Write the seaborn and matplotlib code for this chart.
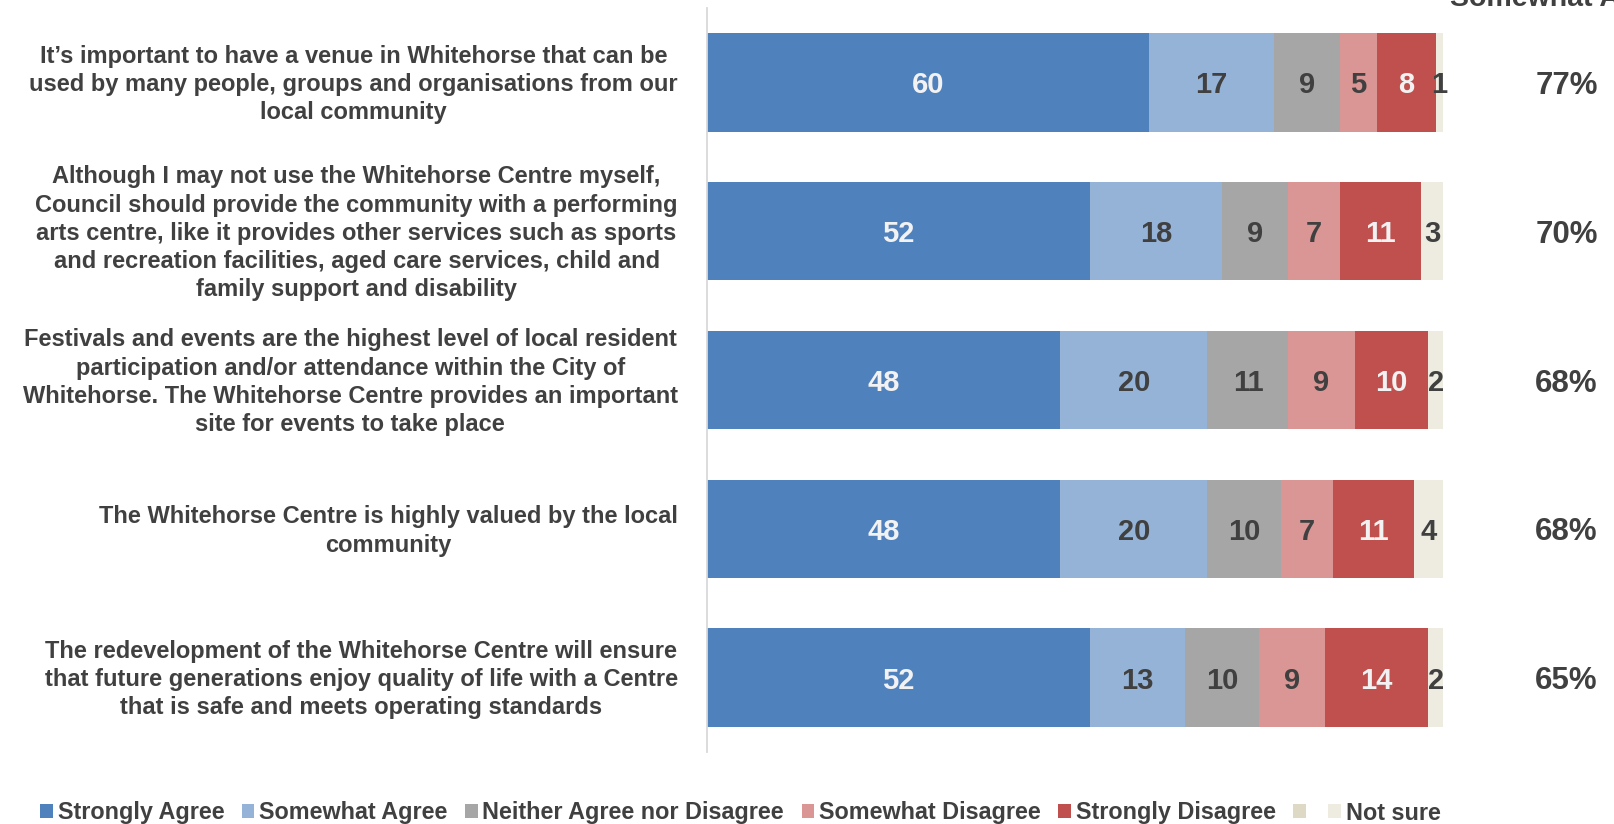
import matplotlib
matplotlib.use("Agg")
import matplotlib.pyplot as plt
from matplotlib.patches import Patch
from matplotlib.transforms import ScaledTranslation
import numpy as np
import pandas as pd
import seaborn as sns

# ---------------- data ----------------
statements = [
    "It\u2019s important to have a venue in Whitehorse that can be\nused by many people, groups and organisations from our\nlocal community",
    "Although I may not use the Whitehorse Centre myself,\nCouncil should provide the community with a performing\narts centre, like it provides other services such as sports\nand recreation facilities, aged care services, child and\nfamily support and disability",
    "Festivals and events are the highest level of local resident\nparticipation and/or attendance within the City of\nWhitehorse. The Whitehorse Centre provides an important\nsite for events to take place",
    "The Whitehorse Centre is highly valued by the local\ncommunity",
    "The redevelopment of the Whitehorse Centre will ensure\nthat future generations enjoy quality of life with a Centre\nthat is safe and meets operating standards",
]
categories = ["Strongly Agree", "Somewhat Agree", "Neither Agree nor Disagree",
              "Somewhat Disagree", "Strongly Disagree", "Not sure"]
strongly_agree = [60, 52, 48, 48, 52]
somewhat_agree = [17, 18, 20, 20, 13]
neither = [9, 9, 11, 10, 10]
somewhat_disagree = [5, 7, 9, 7, 9]
strongly_disagree = [8, 11, 10, 11, 14]
not_sure = [1, 3, 2, 4, 2]
header = "Somewhat Agree + Strongly Agree"

series = [strongly_agree, somewhat_agree, neither, somewhat_disagree, strongly_disagree, not_sure]
colors = ["#4F81BD", "#95B3D7", "#A6A6A6", "#DA9694", "#C0504D", "#EEECE1"]
label_colors = ["#F2F2F2", "#404040", "#404040", "#404040", "#F2F2F2", "#404040"]
text_color = "#404040"

# ---------------- style ----------------
sns.set_theme(style="white")
plt.rcParams["font.family"] = ["Liberation Sans", "DejaVu Sans"]
plt.rcParams["font.weight"] = "bold"

fig = plt.figure(figsize=(16.15, 8.24), dpi=100)
ax = fig.add_axes([707 / 1615, 1 - 752 / 824, (1443 - 707) / 1615, (752 - 8) / 824])

df = pd.DataFrame({"statement": statements})
for k, name in enumerate(categories):
    df[name] = series[k]
cum = df[categories].cumsum(axis=1)

# stacked bars: draw cumulative totals from widest to narrowest
for k in reversed(range(len(categories))):
    sns.barplot(data=cum.assign(statement=df["statement"]), x=categories[k], y="statement",
                orient="h", color=colors[k], saturation=1, width=0.66,
                errorbar=None, linewidth=0, edgecolor="none", ax=ax)

# segment labels
for i in range(len(statements)):
    left = 0
    for k, name in enumerate(categories):
        v = df[name].iloc[i]
        ax.text(left + v / 2, i, f"{v}", ha="center", va="center_baseline",
                fontsize=21, fontweight="bold", color=label_colors[k])
        left += v

# agree totals on the right
agree_total = [a + b for a, b in zip(strongly_agree, somewhat_agree)]
for i, t in enumerate(agree_total):
    ax.text(116.8, i, f"{t}%", ha="center", va="center_baseline", fontsize=22.5,
            fontweight="bold", color=text_color, clip_on=False)

fig.text(1450 / 1615, 1 - 6 / 824, header, ha="left", va="baseline",
         fontsize=20.5, fontweight="bold", color=text_color)

ax.set_xlim(0, 100)
ax.set_ylim(4.5, -0.5)
ax.set_xlabel("")
ax.set_ylabel("")
ax.set_xticks([])
ax.tick_params(axis="y", length=0, pad=21)
shift = ScaledTranslation(0, 3 / 100, fig.dpi_scale_trans)
for lbl in ax.get_yticklabels():
    lbl.set_ha("right")
    lbl.set_multialignment("center")
    lbl.set_fontsize(17)
    lbl.set_fontweight("bold")
    lbl.set_color(text_color)
    lbl.set_linespacing(1.29)
    lbl.set_transform(lbl.get_transform() + shift)

for s in ["top", "right", "bottom"]:
    ax.spines[s].set_visible(False)
ax.spines["left"].set_color("#D9D9D9")
ax.spines["left"].set_linewidth(1.3)

handles = [Patch(facecolor=c, edgecolor="none") for c in colors[:5]]
labels = categories[:5]
handles += [Patch(facecolor="#DDD9C4", edgecolor="none"), Patch(facecolor=colors[5], edgecolor="none")]
labels += ["", categories[5]]
leg = fig.legend(handles, labels, loc="center left", bbox_to_anchor=(40 / 1615, 1 - 813 / 824),
                 ncol=7, frameon=False, fontsize=16.8, handlelength=0.55, handleheight=0.55,
                 handletextpad=0.2, columnspacing=0.75, borderpad=0, borderaxespad=0)
for t in leg.get_texts():
    t.set_color(text_color)
    t.set_fontweight("bold")

fig.savefig("out.png", dpi=100)
